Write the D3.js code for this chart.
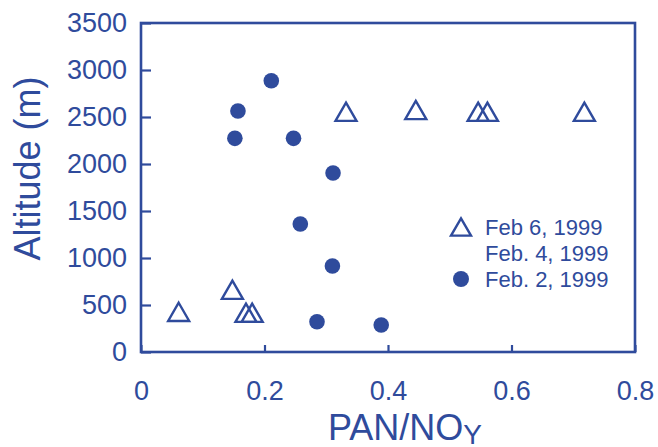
<!DOCTYPE html>
<html>
<head>
<meta charset="utf-8">
<script src="https://cdn.jsdelivr.net/npm/d3@7"></script>
<style>
  html, body { margin: 0; padding: 0; background: #fff; }
  svg { display: block; font-family: "Liberation Sans", Arial, Helvetica, sans-serif; }
</style>
</head>
<body>
<svg id="chart" width="658" height="447"></svg>
<script>
// PAN/NOy ratio against altitude, three flight days
const feb6Ratio    = [0.332, 0.445, 0.546, 0.561, 0.718, 0.148, 0.061, 0.170, 0.180];
const feb6Altitude = [2556, 2574, 2556, 2556, 2556, 662, 427, 417, 417];

const feb4Ratio    = [];
const feb4Altitude = [];

const feb2Ratio    = [0.211, 0.157, 0.152, 0.247, 0.311, 0.258, 0.310, 0.285, 0.389];
const feb2Altitude = [2886, 2564, 2273, 2273, 1904, 1362, 915, 322, 287];

const xTicks = [0, 0.2, 0.4, 0.6, 0.8];
const xTickLabels = ["0", "0.2", "0.4", "0.6", "0.8"];
const yTicks = [0, 500, 1000, 1500, 2000, 2500, 3000, 3500];
const yTickLabels = ["0", "500", "1000", "1500", "2000", "2500", "3000", "3500"];

const legendLabels = ["Feb 6, 1999", "Feb. 4, 1999", "Feb. 2, 1999"];

const ink = "#2f4b9c";
const svg = d3.select("#chart");

const x = d3.scaleLinear().domain([0, 0.8]).range([141, 635]);
const y = d3.scaleLinear().domain([0, 3500]).range([352, 23]);

// Axes with inward ticks
const yAxis = d3.axisLeft(y)
  .tickValues(yTicks)
  .tickFormat((d, i) => yTickLabels[i])
  .tickSize(-10)
  .tickPadding(14);

const xAxis = d3.axisBottom(x)
  .tickValues(xTicks)
  .tickFormat((d, i) => xTickLabels[i])
  .tickSize(-7)
  .tickPadding(29);

const gy = svg.append("g").attr("transform", `translate(${x(0)},0)`).call(yAxis);
const gx = svg.append("g").attr("transform", `translate(0,${y(0)})`).call(xAxis);

[gx, gy].forEach(g => {
  g.select(".domain").remove();
  g.selectAll(".tick line").attr("stroke", ink).attr("stroke-width", 2.2);
  g.selectAll(".tick text")
    .attr("fill", ink)
    .attr("font-size", 27)
    .attr("font-family", "Liberation Sans, Arial, sans-serif");
});

// Frame
svg.append("rect")
  .attr("x", x(0)).attr("y", y(3500))
  .attr("width", x(0.8) - x(0)).attr("height", y(0) - y(3500))
  .attr("fill", "none").attr("stroke", ink).attr("stroke-width", 2.6);

// Axis titles
svg.append("text")
  .attr("transform", `translate(40,${(y(0) + y(3500)) / 2 - 19}) rotate(-90)`)
  .attr("text-anchor", "middle")
  .attr("font-size", 36)
  .attr("fill", ink)
  .text("Altitude (m)");

const xt = svg.append("text")
  .attr("x", 328).attr("y", 440)
  .attr("font-size", 36)
  .attr("fill", ink);
xt.append("tspan").text("PAN/NO");
xt.append("tspan").attr("dy", 4).attr("font-size", 28).text("Y");

// Markers
const triPath = s => {
  const h = s * Math.sqrt(3) / 2;
  return `M0,${-h / 2}L${s / 2},${h / 2}L${-s / 2},${h / 2}Z`;
};

const plot = svg.append("g");

plot.selectAll("circle.feb2")
  .data(d3.range(feb2Ratio.length))
  .join("circle")
  .attr("class", "feb2")
  .attr("cx", i => x(feb2Ratio[i]))
  .attr("cy", i => y(feb2Altitude[i]))
  .attr("r", 7.8)
  .attr("fill", ink);

plot.selectAll("path.feb4")
  .data(d3.range(feb4Ratio.length))
  .join("path")
  .attr("class", "feb4")
  .attr("transform", i => `translate(${x(feb4Ratio[i])},${y(feb4Altitude[i])})`)
  .attr("d", triPath(21))
  .attr("fill", "none")
  .attr("stroke", ink)
  .attr("stroke-width", 2.4);

plot.selectAll("path.feb6")
  .data(d3.range(feb6Ratio.length))
  .join("path")
  .attr("class", "feb6")
  .attr("transform", i => `translate(${x(feb6Ratio[i])},${y(feb6Altitude[i])})`)
  .attr("d", triPath(21))
  .attr("fill", "none")
  .attr("stroke", ink)
  .attr("stroke-width", 2.4)
  .attr("stroke-linejoin", "miter");

// Legend
const legend = svg.append("g").attr("transform", "translate(461,0)");
const rowY = [227, 253, 279];

legend.append("path")
  .attr("transform", `translate(0,${rowY[0]})`)
  .attr("d", triPath(20))
  .attr("fill", "none").attr("stroke", ink).attr("stroke-width", 2.4);

legend.append("circle")
  .attr("cx", 0).attr("cy", rowY[2]).attr("r", 8)
  .attr("fill", ink);

legend.selectAll("text")
  .data(legendLabels)
  .join("text")
  .attr("x", 24)
  .attr("y", (d, i) => rowY[i] + 7.5)
  .attr("font-size", 22)
  .attr("fill", ink)
  .text(d => d);
</script>
</body>
</html>
